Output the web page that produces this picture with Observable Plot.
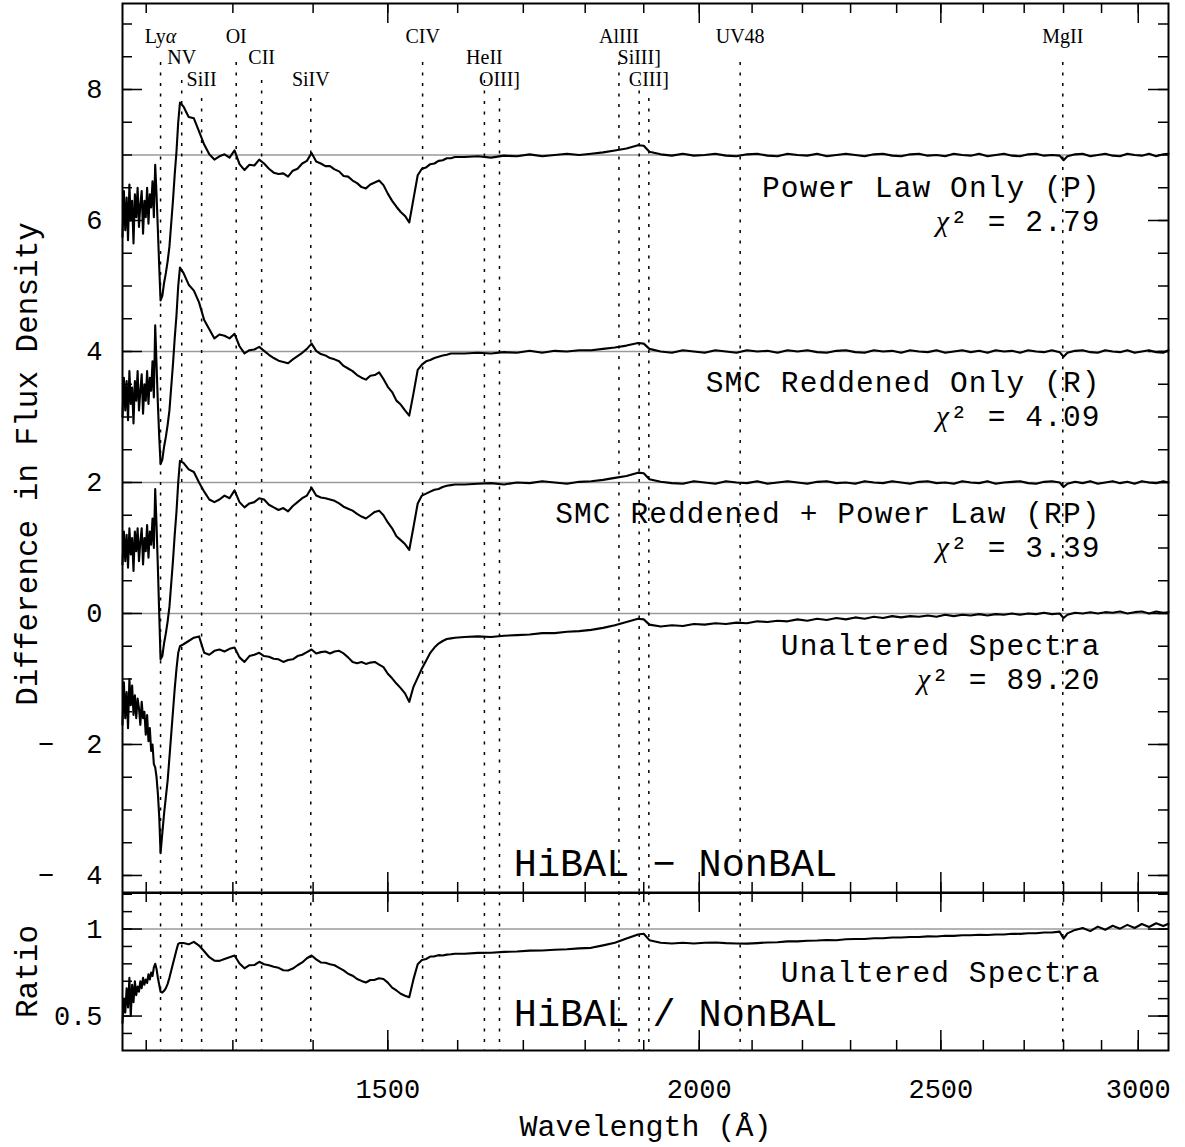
<!DOCTYPE html>
<html><head><meta charset="utf-8">
<script src="https://cdn.jsdelivr.net/npm/d3@7"></script>
<script src="https://cdn.jsdelivr.net/npm/@observablehq/plot@0.6"></script>
<style>
html,body{margin:0;padding:0;background:#fff;}
#wrap{position:relative;width:1185px;height:1147px;background:#fff;}
#wrap svg{position:absolute;left:0;}
svg text{white-space:pre;}
</style></head><body><div id="wrap"></div>
<script>
// ---------------- DATA ----------------
// wavelength grid (Angstrom), split by region
const waveA = [1174,1175.5,1177,1178.5,1180,1181.5,1183,1184.5,1186,1187.5,1189,1190.5,1192,1193.5,1195,1196.5,1198,1199.5,1201,1202.5,1204,1205.5,1207,1208.5,1210,1211.5];
const waveB = [1213,1214.5,1216,1218,1220,1222,1224,1226,1228,1230,1232,1234,1236,1238];
const waveC = [1242,1248,1254,1260,1266,1272,1278,1284,1290,1296,1302,1308,1314,1320,1326,1332,1338,1344,1350,1356,1362,1368,1374,1380,1386,1392,1398,1404,1410,1416,1422,1428,1434,1440,1446,1452,1458,1464,1470,1476,1482,1488,1494,1500,1506,1512,1518,1524,1530,1536,1542,1548,1554,1560,1566,1572,1578,1584,1590,1596];
const waveD = [1610,1630,1650,1670,1690,1710,1730,1750,1770,1790,1810,1830,1850,1870,1890,1900,1910,1930,1950,1970,1990,2010,2030,2050,2070,2090,2110,2130,2150,2170,2190,2210,2230,2250,2270,2290,2310,2330,2350,2370,2390,2410,2430,2450,2470,2490,2510,2530,2550,2570,2590,2610,2630,2650,2670,2690,2710,2730,2750,2770,2790,2800,2810,2830,2850,2870,2890,2910,2930,2950,2970,2990,3010,3030,3050,3070,3085];

// Power Law Only (P), offset +7
const pA = [5.75,6.45,5.85,6.35,5.7,6.55,6.0,6.3,5.65,6.4,6.05,6.5,5.9,6.25,6.45,5.8,6.3,6.05,6.5,5.95,6.4,6.2,6.6,6.05,6.85,6.4];
const pB = [5.85,5.3,4.78,4.85,5.05,5.2,5.38,5.6,5.95,6.3,6.7,7.05,7.5,7.8];
const pC = [7.74,7.58,7.56,7.36,7.16,7.01,6.93,6.98,7.01,6.96,7.07,6.86,6.77,6.85,6.84,6.93,6.87,6.79,6.73,6.71,6.72,6.67,6.76,6.79,6.87,6.91,7.03,6.9,6.87,6.83,6.83,6.78,6.75,6.68,6.67,6.61,6.57,6.51,6.49,6.55,6.58,6.61,6.54,6.41,6.3,6.21,6.13,6.07,5.97,6.33,6.69,6.79,6.81,6.86,6.87,6.91,6.92,6.95,6.95,6.97];
const pD = [6.97,6.98,6.96,6.99,6.98,7.01,6.98,7.0,7.02,7.0,7.02,7.04,7.07,7.1,7.15,7.14,7.05,
  7.01,6.99,7.02,6.99,7.0,7.02,6.99,6.98,7.01,7.02,6.99,6.98,7.02,7.0,6.99,7.02,6.98,7.0,7.02,7.0,6.98,7.01,7.02,6.99,6.98,7.01,7.02,6.99,7.0,6.98,7.02,7.0,6.99,7.02,6.98,7.0,7.02,6.99,6.98,7.01,7.02,6.99,7.0,6.99,
  6.92,6.98,7.01,7.02,6.98,7.0,7.02,6.99,6.98,7.02,7.0,6.99,7.02,6.98,7.01,7.02];

// SMC Reddened Only (R), offset +4
const rA = [3.0,3.6,3.1,3.55,2.95,3.7,3.2,3.45,2.9,3.55,3.25,3.7,3.1,3.4,3.65,3.05,3.5,3.25,3.7,3.2,3.6,3.4,3.85,3.3,4.4,3.8];
const rB = [3.2,2.7,2.28,2.35,2.55,2.7,2.88,3.1,3.45,3.8,4.2,4.55,5.0,5.28];
const rC = [5.2,5.02,4.93,4.75,4.48,4.34,4.2,4.26,4.24,4.2,4.27,4.08,3.97,4.02,4.03,4.07,4.01,3.95,3.9,3.86,3.84,3.82,3.88,3.93,3.98,4.04,4.12,4.01,3.96,3.94,3.9,3.88,3.85,3.78,3.74,3.7,3.64,3.6,3.57,3.63,3.64,3.68,3.58,3.46,3.38,3.25,3.19,3.1,3.02,3.36,3.72,3.8,3.85,3.87,3.9,3.92,3.94,3.95,3.97,3.97];
const rD = [3.97,3.98,3.97,3.99,3.98,4.01,3.98,4.01,4.0,4.02,4.02,4.04,4.06,4.09,4.13,4.12,4.04,
  4.0,3.98,4.02,4.0,3.98,4.02,4.0,3.98,4.02,4.0,4.01,3.98,4.02,4.0,4.02,3.99,3.98,4.01,4.02,3.99,3.98,4.02,4.0,4.01,3.98,4.02,4.0,3.99,4.02,3.98,4.0,4.02,3.99,4.01,3.98,4.02,4.0,4.01,3.98,4.02,4.0,3.99,4.02,3.99,
  3.92,3.98,4.01,4.02,3.99,3.98,4.02,4.0,3.99,4.02,3.98,4.0,4.02,3.99,3.98,4.02];

// SMC Reddened + Power Law (RP), offset +2
const rpA = [0.75,1.25,0.8,1.2,0.7,1.3,0.9,1.15,0.65,1.25,0.95,1.3,0.8,1.1,1.3,0.75,1.15,0.95,1.35,0.85,1.25,1.05,1.45,1.0,1.9,1.35];
const rpB = [0.7,0.0,-0.7,-0.65,-0.45,-0.3,-0.12,0.1,0.45,0.8,1.2,1.55,2.0,2.33];
const rpC = [2.3,2.2,2.16,2.0,1.86,1.74,1.7,1.74,1.8,1.76,1.88,1.7,1.62,1.68,1.7,1.76,1.74,1.66,1.62,1.58,1.61,1.56,1.64,1.7,1.76,1.8,1.92,1.8,1.77,1.76,1.74,1.72,1.68,1.63,1.6,1.57,1.52,1.48,1.45,1.5,1.55,1.57,1.5,1.39,1.3,1.18,1.12,1.06,0.97,1.32,1.68,1.8,1.83,1.86,1.89,1.9,1.93,1.95,1.96,1.97];
const rpD = [1.97,1.98,1.99,1.97,2.0,1.99,2.02,2.0,1.98,2.01,2.02,2.04,2.07,2.1,2.15,2.14,2.05,
  2.01,1.99,1.98,2.02,2.0,1.98,2.02,2.0,1.99,2.02,1.98,2.0,2.02,2.0,1.98,2.01,2.02,1.99,2.0,1.98,2.02,2.0,1.99,2.02,2.0,1.98,2.01,2.02,1.99,2.0,1.98,2.02,2.0,1.99,2.02,1.98,2.0,2.01,2.02,1.99,1.98,2.01,2.02,2.0,
  1.93,1.98,2.01,1.99,2.02,1.98,2.0,2.02,1.99,2.01,1.98,2.02,2.0,1.99,2.02,2.0];

// Unaltered Spectra (U), offset 0
const uA = [-1.7,-1.05,-1.6,-1.2,-1.75,-1.0,-1.4,-1.1,-1.55,-1.25,-1.6,-1.3,-1.45,-1.7,-1.35,-1.6,-1.5,-1.85,-1.55,-1.95,-1.75,-2.1,-2.0,-2.3,-2.35,-2.5];
const uB = [-2.75,-3.1,-3.66,-3.35,-3.05,-2.8,-2.55,-2.2,-1.85,-1.5,-1.15,-0.85,-0.6,-0.5];
const uC = [-0.47,-0.42,-0.37,-0.35,-0.6,-0.63,-0.57,-0.55,-0.58,-0.54,-0.52,-0.67,-0.74,-0.65,-0.63,-0.6,-0.65,-0.66,-0.69,-0.7,-0.74,-0.71,-0.7,-0.65,-0.63,-0.59,-0.55,-0.61,-0.59,-0.58,-0.61,-0.58,-0.57,-0.61,-0.67,-0.74,-0.76,-0.74,-0.77,-0.75,-0.74,-0.78,-0.82,-0.92,-0.99,-1.07,-1.14,-1.22,-1.35,-1.12,-0.98,-0.84,-0.72,-0.6,-0.52,-0.46,-0.42,-0.39,-0.38,-0.37];
const uD = [-0.36,-0.35,-0.36,-0.34,-0.33,-0.32,-0.3,-0.3,-0.28,-0.27,-0.25,-0.22,-0.18,-0.13,-0.08,-0.09,-0.17,
  -0.2,-0.18,-0.19,-0.16,-0.17,-0.15,-0.16,-0.14,-0.15,-0.12,-0.13,-0.11,-0.12,-0.09,-0.11,-0.08,-0.1,-0.07,-0.09,-0.06,-0.08,-0.05,-0.07,-0.04,-0.06,-0.04,-0.05,-0.03,-0.05,-0.02,-0.04,-0.02,-0.03,-0.01,-0.03,-0.01,-0.02,0.0,-0.02,0.0,-0.01,0.01,-0.01,0.0,
  -0.07,-0.02,0.01,0.0,0.02,0.0,0.02,0.01,0.03,0.0,0.02,0.03,0.0,0.03,0.01,0.02];

// Ratio HiBAL / NonBAL (unaltered)
const qA = [0.46,0.6,0.52,0.66,0.55,0.72,0.5,0.68,0.58,0.7,0.62,0.67,0.64,0.7,0.66,0.72,0.68,0.71,0.69,0.74,0.71,0.75,0.73,0.78,0.8,0.77];
const qB = [0.72,0.68,0.64,0.635,0.645,0.66,0.685,0.72,0.76,0.8,0.84,0.88,0.915,0.92];
const qC = [0.92,0.912,0.926,0.905,0.872,0.838,0.818,0.817,0.828,0.838,0.848,0.802,0.774,0.792,0.793,0.812,0.798,0.792,0.783,0.777,0.763,0.762,0.773,0.792,0.808,0.832,0.848,0.826,0.808,0.806,0.798,0.792,0.777,0.762,0.743,0.732,0.713,0.702,0.693,0.707,0.708,0.717,0.713,0.692,0.663,0.647,0.628,0.617,0.608,0.712,0.798,0.822,0.828,0.842,0.843,0.85,0.848,0.853,0.855,0.858];
const qD = [0.858,0.863,0.864,0.869,0.871,0.876,0.877,0.881,0.884,0.889,0.892,0.906,0.921,0.946,0.969,0.973,0.936,
  0.921,0.917,0.921,0.917,0.921,0.923,0.919,0.917,0.916,0.919,0.923,0.924,0.929,0.929,0.933,0.934,0.937,0.936,0.941,0.943,0.943,0.947,0.947,0.951,0.951,0.954,0.954,0.958,0.957,0.961,0.961,0.964,0.964,0.967,0.966,0.969,0.969,0.973,0.972,0.976,0.976,0.98,0.98,0.985,
  0.945,0.975,0.995,1.006,0.988,1.014,0.996,1.019,1.002,1.024,1.006,1.029,1.012,1.033,1.017,1.03];

// emission lines
const lineNames = ["Lyα","NV","SiII","OI","CII","SiIV","CIV","HeII","OIII]","AlIII","SiIII]","CIII]","UV48","MgII"];
const lineWaves = [1216,1240,1263,1304,1335,1397,1549,1640,1663,1857,1892,1909,2077,2798];
const lineRows  = [1,2,3,1,2,3,1,2,3,1,2,3,1,1];

// reference (offset) levels
const offsets = [7,4,2,0];

// annotations
const fitLabels = ["Power Law Only (P)","SMC Reddened Only (R)","SMC Reddened + Power Law (RP)","Unaltered Spectra"];
const chiLabels = ["χ² = 2.79","χ² = 4.09","χ² = 3.39","χ² = 89.20"];

// axis ticks
const xMajor = [1500,2000,2500,3000];
const xMinor = d3.range(1200,3001,100);
const yMajor = [-4,-2,0,2,4,6,8];
const yMinor = d3.range(-4,9.01,0.5);
const qMajor = [0.5,1];
const qMinor = [0.4,0.5,0.6,0.7,0.8,0.9,1.0,1.1,1.2];

// ---------------- BUILD ----------------
const waveAll = [...waveA,...waveB,...waveC,...waveD];
const seriesVals = {
  P: [...pA,...pB,...pC,...pD],
  R: [...rA,...rB,...rC,...rD],
  RP: [...rpA,...rpB,...rpC,...rpD],
  U: [...uA,...uB,...uC,...uD]
};
const diffRows = Object.entries(seriesVals).flatMap(([k,vals]) => waveAll.map((w,i)=>({w, v: vals[i], s:k})));
const qVals = [...qA,...qB,...qC,...qD];
const ratioRows = waveAll.map((w,i)=>({w, v: qVals[i]}));
const lines = lineNames.map((n,i)=>({name:n, w:lineWaves[i], row:lineRows[i]}));

const W = 1185, ML = 122, MR = 17;
const plotW = W - ML - MR;
const xDomain = [1174, 3085];
const mainH = 892, mainTop = 3, mainPH = mainH - mainTop;
const ratioH = 255, ratioBottom = 97, ratioPH = ratioH - ratioBottom;
const MONO = "Liberation Mono, DejaVu Sans Mono, monospace";
const SERIF = "Liberation Serif, DejaVu Serif, serif";
const fmtY = d => d < 0 ? "−  " + Math.abs(d) : String(d);

const dotted = {stroke:"black", strokeWidth:1.5, strokeDasharray:"3,7.5"};
const tk = {stroke:"black", strokeWidth:1.5};
const annFont = {fontFamily: MONO, fontSize: 29.5, fill:"black"};

const rowTop = {1: 59, 2: 77, 3: 95};
const rowDy = {1: 39, 2: 60.5, 3: 82};

const main = Plot.plot({
  width: W, height: mainH,
  marginLeft: ML, marginRight: MR, marginTop: mainTop, marginBottom: 0,
  x: {type:"log", domain: xDomain, axis: null},
  y: {domain: [-4.26, 9.313], axis: null},
  style: {background:"white", fontFamily: MONO},
  marks: [
    Plot.ruleY(offsets, {stroke:"#9a9a9a", strokeWidth:1.6}),
    ...[1,2,3].map(r => Plot.ruleX(lines.filter(d=>d.row===r), {x:"w", insetTop: rowTop[r], ...dotted})),
    ...[1,2,3].map(r => Plot.text(lines.filter(d=>d.row===r), {x:"w", text:"name", frameAnchor:"top", dy: rowDy[r], lineAnchor:"bottom", fontFamily: SERIF, fontSize: 20, fill:"black"})),
    Plot.line(diffRows, {x:"w", y:"v", z:"s", stroke:"black", strokeWidth:2.1, strokeLinejoin:"round"}),
    // y ticks left/right
    Plot.tickY(yMinor, {insetRight: plotW - 10, ...tk}),
    Plot.tickY(yMajor, {insetRight: plotW - 20, ...tk}),
    Plot.tickY(yMinor, {insetLeft: plotW - 10, ...tk}),
    Plot.tickY(yMajor, {insetLeft: plotW - 20, ...tk}),
    // x ticks top/bottom
    Plot.tickX(xMinor, {insetBottom: mainPH - 10, ...tk}),
    Plot.tickX(xMajor, {insetBottom: mainPH - 20, ...tk}),
    Plot.tickX(xMinor, {insetTop: mainPH - 10, ...tk}),
    Plot.tickX(xMajor, {insetTop: mainPH - 20, ...tk}),
    Plot.frame({stroke:"black", strokeWidth:2}),
    // tick labels
    Plot.text(yMajor, {y: d=>d, text: fmtY, frameAnchor:"left", dx:-20, textAnchor:"end", lineAnchor:"middle", fontFamily: MONO, fontSize: 27, fill:"black"}),
    Plot.text(["Difference in Flux Density"], {frameAnchor:"left", dx:-95, dy:16, rotate:-90, textAnchor:"middle", lineAnchor:"middle", fontFamily: MONO, fontSize: 31, fill:"black"}),
    // annotations
    Plot.text(fitLabels, {y: [6.366, 3.374, 1.374, -0.641], text: d=>d, frameAnchor:"right", dx:-68, textAnchor:"end", lineAnchor:"bottom", ...annFont}),
    Plot.text(chiLabels, {y: [5.847, 2.855, 0.855, -1.160], text: d=>d, frameAnchor:"right", dx:-68, textAnchor:"end", lineAnchor:"bottom", ...annFont}),
    Plot.text(["HiBAL − NonBAL"], {y: [-4.015], frameAnchor:"middle", dx:30, textAnchor:"middle", lineAnchor:"bottom", fontFamily: MONO, fontSize: 38.5, fill:"black"})
  ]
});

const ratio = Plot.plot({
  width: W, height: ratioH,
  marginLeft: ML, marginRight: MR, marginTop: 0, marginBottom: ratioBottom,
  x: {type:"log", domain: xDomain, axis: null},
  y: {domain: [0.302, 1.21], axis: null},
  style: {background:"white", fontFamily: MONO},
  marks: [
    Plot.ruleY([1], {stroke:"#9a9a9a", strokeWidth:1.6}),
    Plot.ruleX(lines, {x:"w", ...dotted}),
    Plot.line(ratioRows, {x:"w", y:"v", stroke:"black", strokeWidth:2.1, strokeLinejoin:"round"}),
    Plot.tickY(qMinor, {insetRight: plotW - 10, ...tk}),
    Plot.tickY(qMajor, {insetRight: plotW - 20, ...tk}),
    Plot.tickY(qMinor, {insetLeft: plotW - 10, ...tk}),
    Plot.tickY(qMajor, {insetLeft: plotW - 20, ...tk}),
    Plot.tickX(xMinor, {insetBottom: ratioPH - 10, ...tk}),
    Plot.tickX(xMajor, {insetBottom: ratioPH - 20, ...tk}),
    Plot.tickX(xMinor, {insetTop: ratioPH - 10, ...tk}),
    Plot.tickX(xMajor, {insetTop: ratioPH - 20, ...tk}),
    Plot.frame({stroke:"black", strokeWidth:2}),
    Plot.ruleY([1.21], {stroke:"black", strokeWidth:3}),
    Plot.text(qMajor, {y: d=>d, text: d=> d===1 ? "1" : "0.5", frameAnchor:"left", dx:-20, textAnchor:"end", lineAnchor:"middle", fontFamily: MONO, fontSize: 27, fill:"black"}),
    Plot.text(["Ratio"], {frameAnchor:"left", dx:-95, rotate:-90, textAnchor:"middle", lineAnchor:"middle", fontFamily: MONO, fontSize: 31, fill:"black"}),
    Plot.text(xMajor, {x: d=>d, text: d=>String(d), frameAnchor:"bottom", dy:47, textAnchor:"middle", lineAnchor:"bottom", fontFamily: MONO, fontSize: 27, fill:"black"}),
    Plot.text(["Wavelength (Å)"], {frameAnchor:"bottom", dy:85, textAnchor:"middle", lineAnchor:"bottom", fontFamily: MONO, fontSize: 30, fill:"black"}),
    Plot.text(["Unaltered Spectra"], {y:[0.698], frameAnchor:"right", dx:-68, textAnchor:"end", lineAnchor:"bottom", ...annFont}),
    Plot.text(["HiBAL / NonBAL"], {y:[0.4454], frameAnchor:"middle", dx:30, textAnchor:"middle", lineAnchor:"bottom", fontFamily: MONO, fontSize: 38.5, fill:"black"})
  ]
});

main.style.top = "0px";
ratio.style.top = mainH + "px";
const wrap = document.getElementById("wrap");
wrap.appendChild(ratio);
wrap.appendChild(main);

// widen the annotation lettering a little, italic Greek letters
const annSet = new Set([...fitLabels, ...chiLabels]);
for (const svg of [main, ratio]) {
  d3.select(svg).selectAll("text").each(function() {
    const t = this.textContent;
    if (annSet.has(t)) this.setAttribute("letter-spacing", "1.1");
    const m = t.match(/^(.*?)([χα])(.*)$/);
    if (!m) return;
    const sel = d3.select(this);
    sel.text(null);
    if (m[1]) sel.append("tspan").text(m[1]);
    sel.append("tspan").attr("font-style","italic").attr("font-family", SERIF).text(m[2]);
    if (m[3]) sel.append("tspan").text(m[3]);
  });
}
</script></body></html>
